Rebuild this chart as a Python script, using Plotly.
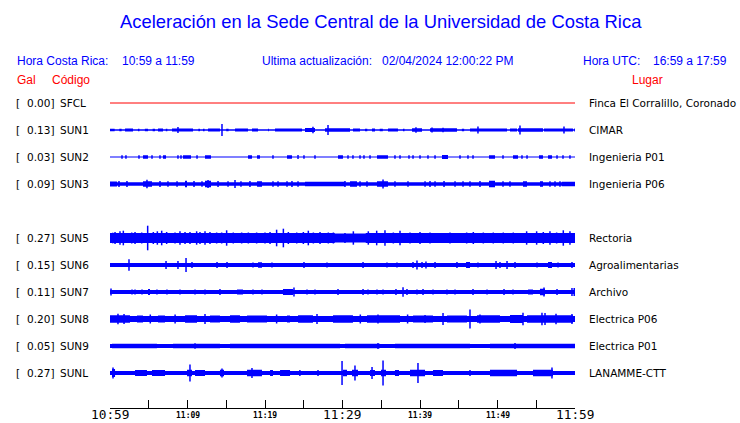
import plotly.graph_objects as go

# ---------------- data ----------------
TITLE = "Aceleración en la Sede Central de la Universidad de Costa Rica"
LOCAL_LABEL = "Hora Costa Rica:"
LOCAL_RANGE = "10:59 a 11:59"
UPDATE_LABEL = "Ultima actualización:"
UPDATE_TIME = "02/04/2024 12:00:22 PM"
UTC_LABEL = "Hora UTC:"
UTC_RANGE = "16:59 a 17:59"

stations = ["SFCL", "SUN1", "SUN2", "SUN3", "SUN5", "SUN6", "SUN7", "SUN8", "SUN9", "SUNL"]
peak_gal = [0.00, 0.13, 0.03, 0.09, 0.27, 0.15, 0.11, 0.20, 0.05, 0.27]
places = ["Finca El Corralillo, Coronado", "CIMAR", "Ingenieria P01", "Ingenieria P06",
          "Rectoria", "Agroalimentarias", "Archivo", "Electrica P06", "Electrica P01", "LANAMME-CTT"]

# time axis: minutes after 10:59 local time
tick_minutes = [0, 5, 10, 15, 20, 25, 30, 35, 40, 45, 50, 55, 60]
tick_labels = ["10:59", "", "11:09", "", "11:19", "", "11:29", "", "11:39", "", "11:49", "", "11:59"]

# background (continuous) trace half-amplitude per station
base_amp = [0.0, 0.8, 0.6, 1.8, 4.3, 1.9, 1.9, 3.0, 1.9, 1.9]

# bursts: (start minute, end minute, half-amplitude)
bursts_SUN1 = [(0.0, 0.6, 1.3), (1.2, 1.5, 1.3), (1.94, 2.97, 1.5), (3.6, 3.8, 1.2), (4.5, 4.9, 1.3),
               (5.5, 5.8, 1.2), (6.19, 6.84, 1.5), (7.2, 7.4, 1.2), (8.0, 10.71, 1.6), (11.4, 11.6, 1.3),
               (12.0, 12.2, 1.2), (12.65, 14.19, 1.6), (15.0, 15.3, 1.3), (16.13, 17.81, 1.5),
               (18.32, 19.1, 1.5), (20.39, 20.5, 1.3), (21.29, 24.77, 1.5), (25.16, 26.45, 1.9),
               (27.74, 30.97, 1.7), (31.35, 32.26, 1.4), (32.9, 33.2, 1.3), (33.8, 34.2, 1.4),
               (34.8, 35.2, 1.3), (35.87, 37.16, 1.5), (37.8, 38.0, 1.2), (38.97, 40.26, 1.7),
               (41.29, 44.77, 1.7), (45.4, 45.7, 1.3), (46.45, 51.23, 1.6), (51.61, 52.52, 1.4),
               (52.65, 55.87, 1.7), (56.0, 59.74, 1.6), (59.9, 60.0, 1.6)]
spikes_SUN1 = [(8.77, 3.0), (14.45, 6.0), (26.19, 3.2), (28.13, 5.0), (39.48, 2.8), (41.55, 2.6),
               (42.97, 2.3), (47.48, 3.6), (52.9, 4.6), (58.58, 3.6)]

bursts_SUN2 = [(4.26, 4.9, 1.8), (6.84, 7.23, 1.8), (9.42, 10.45, 1.8), (12.26, 13.03, 1.8),
               (17.81, 18.32, 1.8), (18.97, 19.35, 1.8), (22.84, 23.48, 1.8), (29.42, 30.06, 1.8),
               (34.45, 35.87, 1.8), (42.84, 43.61, 2.0), (48.9, 49.68, 1.8), (52.0, 52.65, 1.8),
               (55.35, 55.87, 1.8), (56.52, 57.03, 1.8)]
spikes_SUN2 = [(1.55, 1.8), (2.06, 1.8), (3.74, 1.8), (5.42, 1.8), (6.45, 1.8), (8.77, 1.8), (9.16, 1.8),
               (11.23, 1.8), (21.03, 1.8), (24.26, 2.0), (25.03, 1.8), (26.45, 1.8), (30.71, 1.8),
               (31.35, 1.8), (32.26, 1.8), (32.77, 1.8), (33.55, 1.8), (36.77, 1.8), (37.42, 1.8),
               (38.58, 1.8), (39.1, 1.8), (40.0, 1.8), (41.03, 1.8), (41.94, 1.8), (45.16, 1.8),
               (46.19, 1.8), (46.84, 1.8), (50.71, 1.8), (53.16, 1.8), (53.81, 1.8), (57.68, 1.8),
               (58.45, 1.8), (59.35, 1.8)]

bursts_SUN3 = [(0.0, 0.9, 2.4), (4.26, 5.42, 2.8), (9.68, 9.94, 3.2), (12.26, 13.03, 3.2),
               (18.97, 19.61, 2.7), (25.16, 30.32, 2.3), (30.97, 31.87, 2.7), (34.45, 35.87, 2.7),
               (48.9, 49.68, 3.2), (53.29, 53.81, 2.7), (55.48, 55.87, 2.7), (58.3, 60.0, 2.2)]
spikes_SUN3 = [(1.16, 3.0), (2.19, 3.0), (4.77, 4.2), (6.45, 3.0), (7.48, 2.7), (8.65, 2.7),
               (10.84, 3.0), (11.87, 2.7), (12.65, 4.0), (13.94, 3.0), (15.23, 2.7), (16.13, 4.0),
               (16.9, 2.7), (18.06, 3.0), (21.03, 2.7), (21.68, 2.7), (22.84, 2.7), (23.48, 3.0),
               (24.26, 2.7), (30.32, 3.0), (32.26, 2.7), (33.16, 2.7), (35.23, 4.5), (36.77, 2.7),
               (38.45, 2.7), (40.65, 2.7), (41.29, 3.0), (41.94, 2.7), (43.1, 3.0), (44.52, 2.7),
               (45.55, 2.7), (46.45, 2.7), (47.74, 3.0), (50.71, 2.7), (51.61, 2.7), (56.77, 2.7),
               (57.42, 2.7), (58.06, 2.7)]

bursts_SUN5 = [(0.0, 29.0, 5.0), (29.0, 33.0, 4.5), (33.0, 60.0, 5.0)]
spikes_SUN5 = [(0.35, 5.3), (0.65, 6.0), (1.29, 6.7), (1.72, 7.3), (2.8, 5.5), (3.23, 6.0), (4.09, 5.5),
               (4.86, 12.3), (5.59, 6.0), (6.11, 6.7), (6.67, 7.3), (7.31, 6.0), (8.39, 5.5),
               (9.03, 6.7), (9.68, 6.0), (10.32, 6.0), (11.18, 6.7), (11.61, 6.0), (12.26, 6.7),
               (12.9, 6.0), (13.76, 5.5), (14.41, 5.5), (15.05, 7.7), (15.91, 5.5), (16.99, 5.5),
               (17.85, 5.5), (18.92, 5.5), (20.0, 5.5), (20.65, 6.0), (21.5, 8.3), (22.37, 9.3),
               (23.01, 6.0), (24.09, 5.5), (24.95, 6.0), (25.59, 7.3), (26.24, 5.5), (27.1, 6.0),
               (28.17, 5.5), (28.82, 5.5), (30.32, 5.0), (31.4, 6.7), (33.33, 6.7), (34.41, 7.3),
               (35.48, 7.7), (36.56, 5.5), (37.42, 7.3), (38.71, 5.5), (40.0, 6.0), (41.29, 5.5),
               (43.87, 5.5), (46.02, 5.5), (46.88, 6.0), (48.17, 5.5), (49.46, 5.5), (50.75, 5.5),
               (52.04, 5.5), (53.76, 6.7), (55.05, 6.7), (55.91, 6.0), (56.77, 6.7), (57.63, 5.5),
               (58.49, 7.7), (59.35, 6.7)]

bursts_SUN6 = [(19.1, 19.61, 2.7), (45.94, 46.45, 3.0), (56.52, 57.03, 3.0)]
spikes_SUN6 = [(2.45, 5.7), (7.23, 4.0), (8.77, 4.0), (9.81, 7.0), (10.58, 3.0), (13.81, 3.0),
               (15.1, 3.0), (18.45, 2.5), (20.9, 2.5), (25.03, 3.0), (28.0, 2.5), (32.65, 3.0),
               (35.74, 2.5), (37.03, 2.5), (39.1, 3.0), (39.61, 4.5), (40.26, 3.0), (40.77, 3.5),
               (41.94, 3.0), (44.77, 3.0), (47.48, 2.5), (49.81, 4.0), (50.32, 3.0), (51.23, 4.0),
               (52.26, 3.0), (55.1, 2.5), (57.81, 2.5), (59.61, 3.0)]

bursts_SUN7 = [(4.9, 5.16, 3.0), (16.39, 17.16, 2.5), (22.32, 23.61, 3.0), (53.94, 54.58, 2.5),
               (55.48, 56.13, 3.2)]
spikes_SUN7 = [(0.13, 3.5), (2.84, 2.5), (3.23, 2.5), (4.13, 2.5), (6.06, 2.5), (7.35, 2.5),
               (9.03, 2.5), (10.97, 2.5), (12.26, 2.5), (14.19, 3.0), (18.45, 2.5), (19.61, 2.5),
               (23.74, 4.5), (25.42, 2.5), (26.45, 2.5), (29.42, 3.0), (32.65, 3.0), (33.29, 2.5),
               (34.45, 2.5), (35.23, 2.5), (36.9, 3.0), (37.81, 4.7), (38.32, 3.0), (39.61, 2.5),
               (40.39, 3.0), (41.68, 2.5), (43.48, 2.5), (44.52, 2.5), (46.84, 3.0), (48.65, 2.5),
               (50.84, 3.0), (52.0, 2.5), (56.0, 4.5), (57.68, 3.0), (59.61, 4.0), (59.9, 4.0)]

bursts_SUN8 = [(0.0, 2.58, 3.8), (3.48, 4.26, 3.5), (6.19, 7.1, 3.4), (9.68, 11.23, 3.8),
               (12.9, 14.19, 3.5), (15.48, 16.77, 3.8), (17.68, 20.26, 3.5), (22.84, 23.23, 3.5),
               (24.26, 26.19, 3.8), (28.77, 31.35, 3.8), (33.16, 37.42, 3.8), (39.1, 41.68, 3.5),
               (43.48, 46.06, 3.5), (47.35, 50.32, 3.8), (51.61, 53.29, 4.0), (53.81, 59.74, 3.8)]
spikes_SUN8 = [(1.03, 5.3), (1.81, 5.0), (5.2, 4.5), (8.4, 4.5), (12.26, 5.0), (21.5, 4.5),
               (26.71, 5.0), (32.3, 4.5), (34.58, 4.5), (38.4, 4.5), (40.65, 4.0), (42.97, 6.0),
               (46.45, 9.5), (47.74, 4.5), (53.29, 6.3), (55.74, 6.3), (56.13, 6.0), (57.55, 5.3),
               (59.61, 5.0)]

bursts_SUN9 = [(0.26, 6.06, 2.2), (8.13, 14.19, 2.2), (15.48, 29.68, 2.2), (30.32, 34.84, 2.2),
               (36.77, 46.45, 2.2), (49.03, 60.0, 2.2)]
spikes_SUN9 = [(10.97, 2.8), (34.58, 3.0), (52.26, 3.0)]

bursts_SUNL = [(0.26, 0.65, 4.0), (3.23, 4.77, 3.0), (5.42, 7.1, 3.0), (9.94, 10.58, 3.3),
               (10.97, 12.26, 3.0), (14.19, 14.71, 3.3), (17.68, 19.61, 3.3), (20.65, 21.03, 3.0),
               (21.94, 23.23, 3.0), (30.06, 30.58, 3.3), (31.23, 32.0, 3.3), (33.55, 34.19, 3.0),
               (34.97, 35.61, 3.3), (36.77, 37.29, 3.0), (38.71, 40.65, 3.3), (41.68, 42.97, 3.0),
               (49.03, 52.52, 3.3), (54.58, 57.16, 3.3)]
spikes_SUNL = [(0.39, 5.5), (10.32, 8.5), (14.45, 4.5), (18.32, 5.0), (24.5, 3.0), (26.84, 3.0),
               (29.94, 12.0), (31.61, 7.5), (33.81, 6.0), (35.23, 12.5), (39.74, 10.0),
               (46.45, 3.0), (57.03, 5.5)]

bursts = {"SFCL": [], "SUN1": bursts_SUN1, "SUN2": bursts_SUN2, "SUN3": bursts_SUN3,
          "SUN5": bursts_SUN5, "SUN6": bursts_SUN6, "SUN7": bursts_SUN7, "SUN8": bursts_SUN8,
          "SUN9": bursts_SUN9, "SUNL": bursts_SUNL}
spikes = {"SFCL": [], "SUN1": spikes_SUN1, "SUN2": spikes_SUN2, "SUN3": spikes_SUN3,
          "SUN5": spikes_SUN5, "SUN6": spikes_SUN6, "SUN7": spikes_SUN7, "SUN8": spikes_SUN8,
          "SUN9": spikes_SUN9, "SUNL": spikes_SUNL}

# ---------------- layout helpers ----------------
W, H = 740, 423
X0, X1 = 110, 575          # pixel span of the time axis
AXIS_Y = 408               # pixel row of the time axis line
LABEL_Y = 414              # pixel row of the time labels
ROW0, ROW_STEP = 103, 27   # first trace row and spacing (y axis is mapped to pixels)
GAP_AFTER = "SUN3"         # an empty slot follows this station
BLUE = "#0000ff"
RED = "#ff0000"
LABEL_FONT = "DejaVu Sans"
HEAD_FONT = "Liberation Sans"
TIME_FONT = "DejaVu Sans Mono"

fig = go.Figure()

row_y = []
slot = 0
for code in stations:
    row_y.append(ROW0 + ROW_STEP * slot)
    slot += 2 if code == GAP_AFTER else 1

for i, code in enumerate(stations):
    r = row_y[i]
    if code == "SFCL":
        fig.add_trace(go.Scatter(x=[tick_minutes[0], tick_minutes[-1]], y=[r, r], mode="lines",
                                 line=dict(color=RED, width=1), hoverinfo="skip"))
        continue
    xs, ys = [], []

    def rect(t0, t1, a):
        xs.extend([t0, t1, t1, t0, t0, None])
        ys.extend([r - a, r - a, r + a, r + a, r - a, None])

    rect(tick_minutes[0], tick_minutes[-1], base_amp[i])
    for t0, t1, a in bursts[code]:
        rect(t0, t1, a)
    fig.add_trace(go.Scatter(x=xs, y=ys, mode="lines", fill="toself", fillcolor=BLUE,
                             line=dict(color=BLUE, width=0), hoverinfo="skip"))
    sx, sy = [], []
    for t, a in spikes[code]:
        sx.extend([t, t, None])
        sy.extend([r - a, r + a, None])
    if sx:
        fig.add_trace(go.Scatter(x=sx, y=sy, mode="lines", line=dict(color=BLUE, width=1.5),
                                 hoverinfo="skip"))

ann = []


def text(x, y, s, color="black", size=10.5, family=LABEL_FONT, xanchor="left", xref="paper"):
    ann.append(dict(x=x / W if xref == "paper" else x, xref=xref, y=y, yref="y", text=s,
                    showarrow=False, xanchor=xanchor, yanchor="middle",
                    font=dict(color=color, size=size, family=family)))


# title and header
text(381, 21, TITLE, color=BLUE, size=18.4, family=HEAD_FONT, xanchor="center")
text(15, 61, LOCAL_LABEL, color=BLUE, size=12, family=HEAD_FONT)
text(120, 61, LOCAL_RANGE, color=BLUE, size=12, family=HEAD_FONT)
text(260, 61, UPDATE_LABEL, color=BLUE, size=12, family=HEAD_FONT)
text(380, 61, UPDATE_TIME, color=BLUE, size=12, family=HEAD_FONT)
text(581, 61, UTC_LABEL, color=BLUE, size=12, family=HEAD_FONT)
text(651, 61, UTC_RANGE, color=BLUE, size=12, family=HEAD_FONT)
text(15, 80, "Gal", color=RED, size=12, family=HEAD_FONT)
text(50, 80, "Código", color=RED, size=12, family=HEAD_FONT)
text(630, 80, "Lugar", color=RED, size=12, family=HEAD_FONT)

for i, code in enumerate(stations):
    r = row_y[i]
    text(14, r, "[")
    text(56, r, f"{peak_gal[i]:.2f}]", xanchor="right")
    text(58, r, code)
    text(587, r, places[i])

# time labels: the hour/half-hour marks are printed larger
for m, lab in zip(tick_minutes, tick_labels):
    if lab:
        big = m % 30 == 0
        text(m, LABEL_Y + (0 if big else 1), lab if big else f"<b>{lab}</b>",
             size=12.8 if big else 8, family=TIME_FONT, xanchor="center", xref="x")

fig.update_layout(
    width=W, height=H,
    margin=dict(l=0, r=0, t=0, b=0, autoexpand=False),
    paper_bgcolor="white", plot_bgcolor="rgba(0,0,0,0)",
    showlegend=False,
    annotations=ann,
    xaxis=dict(range=[tick_minutes[0], tick_minutes[-1]], domain=[X0 / W, X1 / W],
               anchor="free", position=(H - AXIS_Y) / H, automargin=False,
               showgrid=False, zeroline=False, showline=True, linecolor="black", linewidth=1,
               ticks="inside", ticklen=8, tickcolor="black", tickwidth=1,
               tickmode="array", tickvals=tick_minutes, showticklabels=False,
               fixedrange=True),
    yaxis=dict(range=[H, 0], domain=[0, 1], visible=False, fixedrange=True, automargin=False),
)

fig.write_html("out.html", config={"displayModeBar": False},
               post_script="document.body.style.margin='0';document.body.style.overflow='hidden';")
